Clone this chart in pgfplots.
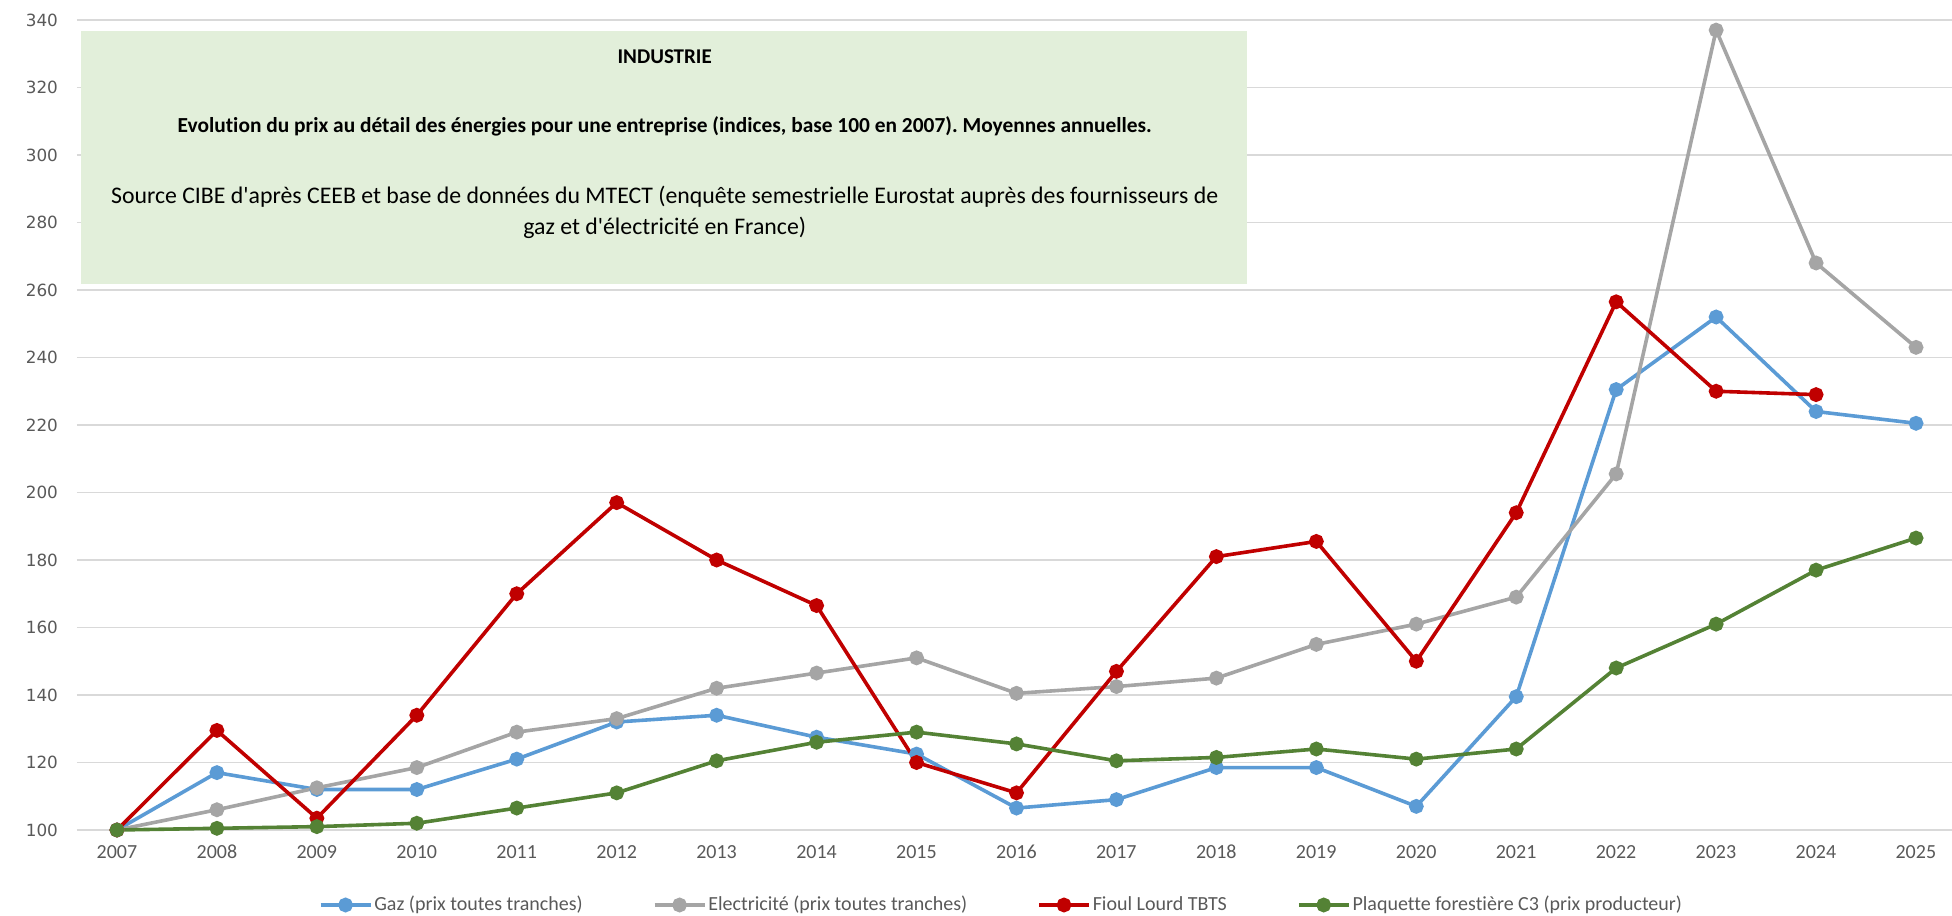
\documentclass[border=0pt]{standalone}
\usepackage{pgfplots}
\pgfplotsset{compat=1.18}
\usepackage{fontspec}
\setmainfont{Carlito}[Ligatures={TeXOff,NoCommon}]
\newfontfamily\dejavu{DejaVu Sans}
\definecolor{cgaz}{HTML}{5B9BD5}
\definecolor{celec}{HTML}{A5A5A5}
\definecolor{cfioul}{HTML}{C00000}
\definecolor{cplaq}{HTML}{548235}
\definecolor{cbox}{HTML}{E2EFDA}
\definecolor{ctick}{HTML}{595959}
\definecolor{cgrid}{HTML}{D9D9D9}
\frenchspacing
\begin{document}
\begin{tikzpicture}
\begin{axis}[
  at={(0,0)}, anchor=south west,
  scale only axis, width=937.5pt, height=405pt,
  xmin=2006.6, xmax=2025.36,
  ymin=100, ymax=340,
  xtick={2007,...,2025},
  ytick={100,120,...,340},
  xticklabel style={/pgf/number format/1000 sep={}, font=\fontsize{10}{12}\selectfont, text=ctick},
  yticklabel style={font=\dejavu\fontsize{8.4}{10}\selectfont, text=ctick},
  /pgf/number format/assume math mode=true,
  xticklabel={\pgfmathprintnumber[1000 sep={},fixed,precision=0]{\tick}},
  tick style={draw=none},
  axis x line*=bottom, axis y line*=left,
  x axis line style={draw=cgrid, line width=0.8pt},
  y axis line style={draw=none},
  ymajorgrids, major grid style={draw=cgrid, line width=0.7pt},
  xticklabel shift=4pt,
  yticklabel shift=6pt,
  clip=false,
  legend columns=4,
  legend style={draw=none, fill=none, at={(0.493,-37.5pt)}, anchor=center,
    font=\fontsize{10}{12}\selectfont, text=ctick,
    nodes={inner xsep=1pt},
    /tikz/every even column/.append style={column sep=34pt}},
  legend image code/.code={\draw[mark repeat=2,mark phase=2,#1] plot coordinates {(0pt,0pt) (12.5pt,0pt) (25pt,0pt)};},
  legend cell align=left,
  every axis plot/.append style={line width=1.8pt, mark=*, mark size=2.8pt, mark options={solid}},
]
\fill[cbox] (rel axis cs:0.0021,0.674) rectangle (rel axis cs:0.624,0.986);
\node[font=\bfseries\fontsize{10.5}{12}\selectfont] at (axis cs:2012.48,{100+ (386.5/405)*240}) {INDUSTRIE};
\node[font=\bfseries\fontsize{10.7}{12}\selectfont] at (axis cs:2012.48,{100+(352/405)*240}) {Evolution du prix au détail des énergies pour une entreprise (indices, base 100 en 2007). Moyennes annuelles.};
\node[font=\fontsize{11.9}{14}\selectfont] at (axis cs:2012.48,{100+(316.5/405)*240}) {Source CIBE d'après CEEB et base de données du MTECT (enquête semestrielle Eurostat auprès des fournisseurs de};
\node[font=\fontsize{11.9}{14}\selectfont] at (axis cs:2012.48,{100+(301/405)*240}) {gaz et d'électricité en France)};

\addplot[color=cgaz, mark options={fill=cgaz}] table {
x y
2007 100
2008 117
2009 112
2010 112
2011 121
2012 132
2013 134
2014 127.5
2015 122.5
2016 106.5
2017 109
2018 118.5
2019 118.5
2020 107
2021 139.5
2022 230.5
2023 252
2024 224
2025 220.5
};
\addlegendentry{Gaz (prix toutes tranches)}
\addplot[color=celec, mark options={fill=celec}] table {
x y
2007 100
2008 106
2009 112.5
2010 118.5
2011 129
2012 133
2013 142
2014 146.5
2015 151
2016 140.5
2017 142.5
2018 145
2019 155
2020 161
2021 169
2022 205.5
2023 337
2024 268
2025 243
};
\addlegendentry{Electricité (prix toutes tranches)}
\addplot[color=cfioul, mark options={fill=cfioul}] table {
x y
2007 100
2008 129.5
2009 103.5
2010 134
2011 170
2012 197
2013 180
2014 166.5
2015 120
2016 111
2017 147
2018 181
2019 185.5
2020 150
2021 194
2022 256.5
2023 230
2024 229
};
\addlegendentry{Fioul Lourd TBTS}
\addplot[color=cplaq, mark options={fill=cplaq}] table {
x y
2007 100
2008 100.5
2009 101
2010 102
2011 106.5
2012 111
2013 120.5
2014 126
2015 129
2016 125.5
2017 120.5
2018 121.5
2019 124
2020 121
2021 124
2022 148
2023 161
2024 177
2025 186.5
};
\addlegendentry{Plaquette forestière C3 (prix producteur)}
\end{axis}
\pgfresetboundingbox
\path (-38.5pt,-42.5pt) rectangle (937.5pt,415pt);
\end{tikzpicture}
\end{document}
